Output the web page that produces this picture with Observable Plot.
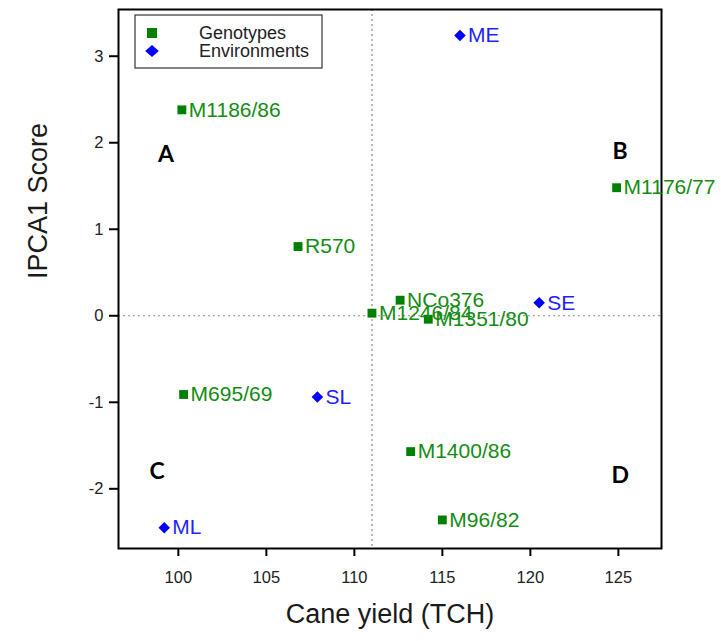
<!DOCTYPE html>
<html>
<head>
<meta charset="utf-8">
<script src="https://cdn.jsdelivr.net/npm/d3@7"></script>
<script src="https://cdn.jsdelivr.net/npm/@observablehq/plot@0.6"></script>
<style>
  html, body { margin: 0; padding: 0; background: #fff; }
  #chart { position: relative; width: 721px; height: 641px; }
</style>
</head>
<body>
<div id="chart"></div>
<script>
// ---- data ----
const genotypes   = ["M1186/86", "M1176/77", "R570", "NCo376", "M1246/84", "M1351/80", "M695/69", "M1400/86", "M96/82"];
const genoYield   = [100.2, 124.9, 106.8, 112.6, 111.0, 114.2, 100.3, 113.2, 115.0];
const genoIPCA1   = [2.38, 1.48, 0.80, 0.18, 0.03, -0.04, -0.91, -1.57, -2.36];

const environments = ["ME", "SE", "SL", "ML"];
const envYield     = [116.0, 120.5, 107.9, 99.2];
const envIPCA1     = [3.24, 0.15, -0.94, -2.45];

const grandMeanYield = 111.0;
const ipcaZero = 0;

const quadrantLabels = ["A", "B", "C", "D"];
const quadrantX      = [99.3, 125.1, 98.8, 125.1];
const quadrantY      = [1.86, 1.90, -1.80, -1.85];

const xTicks = [100, 105, 110, 115, 120, 125];
const yTicks = [-2, -1, 0, 1, 2, 3];
const xTitle = "Cane yield (TCH)";
const yTitle = "IPCA1 Score";
const legendNames = ["Genotypes", "Environments"];

// ---- tables ----
const geno = genotypes.map((name, i) => ({name, x: genoYield[i], y: genoIPCA1[i]}));
const env = environments.map((name, i) => ({name, x: envYield[i], y: envIPCA1[i]}));
const quads = quadrantLabels.map((name, i) => ({name, x: quadrantX[i], y: quadrantY[i]}));

const GREEN = "#008000", GREEN_TXT = "#138c13", BLUE = "#0000ff", BLUE_TXT = "#1f1fff";
const FONT = "'Liberation Sans', Arial, sans-serif";
const fmt = d => String(d);

const svg = Plot.plot({
  width: 721,
  height: 641,
  marginLeft: 118,
  marginRight: 60,
  marginTop: 9,
  marginBottom: 93,
  style: {fontFamily: FONT, fontSize: "16.5px", color: "#222", background: "#fff"},
  x: {domain: [96.6, 127.45], ticks: xTicks, tickFormat: fmt},
  y: {domain: [-2.69, 3.54], ticks: yTicks, tickFormat: fmt},
  marks: [
    Plot.ruleX([grandMeanYield], {stroke: "#8a8a8a", strokeWidth: 1.2, strokeDasharray: "2,3"}),
    Plot.ruleY([ipcaZero], {stroke: "#8a8a8a", strokeWidth: 1.2, strokeDasharray: "2,3"}),
    Plot.axisX({ticks: xTicks, tickFormat: fmt, tickSize: 8, tickPadding: 15, strokeWidth: 2, stroke: "#000", label: null, fontSize: 16.5}),
    Plot.axisY({ticks: yTicks, tickFormat: fmt, tickSize: 9, tickPadding: 6, strokeWidth: 2, stroke: "#000", label: null, fontSize: 16.5}),
    Plot.frame({stroke: "#000", strokeWidth: 2}),
    Plot.dot(geno, {x: "x", y: "y", symbol: "square", r: 5, fill: GREEN, stroke: "none"}),
    Plot.text(geno, {x: "x", y: "y", text: "name", dx: 7, textAnchor: "start", fill: GREEN_TXT, fontSize: 21}),
    Plot.dot(env, {x: "x", y: "y", symbol: "diamond2", r: 5.2, fill: BLUE, stroke: "none"}),
    Plot.text(env, {x: "x", y: "y", text: "name", dx: 8, textAnchor: "start", fill: BLUE_TXT, fontSize: 21}),
    Plot.text(quads, {x: "x", y: "y", text: "name", fill: "#000", fontSize: 23, fontWeight: "bold", fontFamily: "Lato, 'Liberation Sans', Arial, sans-serif"}),
    Plot.text([xTitle], {frameAnchor: "bottom", dy: 74, fontSize: 27, fill: "#1a1a1a"}),
    Plot.text([yTitle], {frameAnchor: "left", dx: -80, rotate: -90, fontSize: 27, fill: "#1a1a1a"})
  ]
});

// ---- legend inside the frame ----
const s = d3.select(svg);
const lg = s.append("g").attr("font-family", FONT).attr("text-anchor", "start");
lg.append("rect").attr("x", 135).attr("y", 15).attr("width", 187).attr("height", 53)
  .attr("fill", "#fff").attr("stroke", "#333").attr("stroke-width", 1.2);
lg.append("path").attr("d", d3.symbol(d3.symbolSquare, 100)()).attr("transform", "translate(152,33)").attr("fill", GREEN);
lg.append("path").attr("d", d3.symbol(d3.symbolDiamond2, 90)()).attr("transform", "translate(152,51) scale(1.15,1)").attr("fill", BLUE);
lg.append("text").attr("x", 199).attr("y", 33).attr("dy", "0.35em").attr("font-size", 18).attr("fill", "#222").attr("text-anchor", "start").text(legendNames[0]);
lg.append("text").attr("x", 199).attr("y", 51).attr("dy", "0.35em").attr("font-size", 18).attr("fill", "#222").attr("text-anchor", "start").text(legendNames[1]);

document.getElementById("chart").appendChild(svg);
</script>
</body>
</html>
